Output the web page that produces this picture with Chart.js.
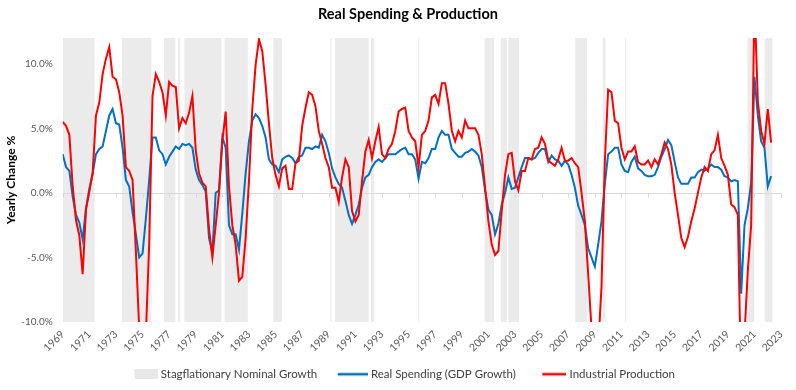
<!DOCTYPE html>
<html>
<head>
<meta charset="utf-8">
<title>Real Spending &amp; Production</title>
<script src="https://cdn.jsdelivr.net/npm/chart.js@4.4.1/dist/chart.umd.min.js"></script>
<style>
  body { margin: 0; background: #fff; }
  #wrap { position: relative; width: 796px; height: 390px; }
  #title {
    position: absolute; left: 0; top: 5px; width: 816px;
    text-align: center; line-height: 18px;
    font-family: Lato, 'Open Sans', sans-serif; font-weight: bold; font-size: 14.5px; color: #000;
  }
  #mycanvas { position: absolute; left: 0; top: 0; }
</style>
</head>
<body>
<div id="wrap">
  <canvas id="mycanvas" width="796" height="390"></canvas>
  <div id="title">Real Spending &amp; Production</div>
</div>
<script>
// yearly change %, one value per quarter, starting 1969 Q1
var firstYear = 1969;

var realSpending = [
  3.0, 2.0, 1.7, -0.3,    -1.7, -2.3, -3.6, -1.2,   0.3, 1.5, 3.0, 3.4,     3.6, 4.8, 6.0, 6.5,
  5.4, 5.3, 3.5, 1.0,     0.5, -1.5, -3.2, -5.0,    -4.7, -2.0, 1.0, 4.3,   4.3, 3.3, 3.0, 2.2,
  2.8, 3.2, 3.6, 3.4,     3.8, 3.7, 3.8, 3.5,       1.8, 1.0, 0.6, 0.1,     -3.5, -4.6, 0.0, 0.2,
  4.3, 3.5, -2.5, -3.2,   -3.2, -4.4, -1.6, 1.5,    4.0, 5.6, 6.1, 5.8,     5.2, 4.3, 2.6, 2.2,
  2.1, 1.6, 2.6, 2.8,     2.9, 2.7, 2.3, 2.8,       2.9, 3.5, 3.5, 3.4,     3.6, 3.5, 4.5, 4.0,
  3.1, 1.9, 1.2, 0.7,     0.4, -0.6, -1.7, -2.4,    -1.7, -0.9, 0.4, 1.2,   1.4, 2.0, 2.4, 2.6,
  2.4, 2.7, 3.0, 3.0,     3.0, 3.2, 3.4, 3.5,       3.0, 3.0, 2.6, 1.1,     2.4, 2.3, 2.7, 3.4,
  3.4, 4.3, 4.8, 4.5,     4.5, 3.4, 3.1, 2.8,       2.8, 3.1, 3.2, 3.4,     3.2, 2.9, 2.0, 0.2,
  -1.3, -1.7, -3.2, -2.4, -0.9, 0.0, 1.2, 0.3,      0.4, 1.2, 2.0, 2.7,     2.7, 2.6, 2.7, 3.1,
  3.4, 3.4, 2.4, 2.9,     2.6, 2.5, 2.1, 2.5,       2.2, 1.4, 0.4, -1.0,    -1.7, -2.5, -4.3, -5.0,
  -5.7, -4.0, -2.2, 0.7,  3.0, 3.2, 3.5, 3.5,       2.2, 1.7, 1.6, 2.4,     2.8, 1.9, 1.7, 1.4,
  1.3, 1.3, 1.4, 2.0,     2.8, 3.4, 4.1, 3.7,       2.4, 1.2, 0.7, 0.7,     0.7, 1.2, 1.2, 1.6,
  1.8, 1.7, 1.9, 2.2,     2.0, 2.0, 1.8, 1.3,       1.2, 0.9, 1.0, 0.9,     -7.8, -2.5, -1.2, 0.8,
  9.0, 6.0, 4.0, 3.5,     0.5, 1.3
];

var industrialProduction = [
  5.5, 5.2, 4.5, 0.5,     -2.1, -3.3, -6.3, -1.3,   0.1, 1.5, 6.0, 7.0,     9.2, 10.4, 11.3, 9.0,
  8.8, 7.8, 6.0, 2.0,     1.7, 1.0, -4.5, -10.5,    -13.0, -11.0, -4.0, 7.5, 9.2, 8.6, 7.8, 6.0,
  8.6, 8.3, 8.2, 5.0,     5.8, 5.4, 6.2, 7.5,       3.3, 1.5, 0.8, 0.5,     -2.8, -5.0, -2.5, 0.0,
  4.0, 6.3, 0.5, -2.5,    -4.0, -6.8, -6.5, -3.5,   0.9, 6.5, 9.9, 11.9,    11.0, 8.4, 5.4, 2.7,
  1.4, 0.5, 1.9, 2.1,     0.3, 0.3, 2.3, 2.5,       5.2, 6.6, 7.8, 7.6,     6.7, 4.8, 3.8, 2.7,
  2.0, 0.4, 0.4, -0.7,    1.2, 2.6, 2.0, -1.4,      -2.2, -1.7, 0.9, 3.2,   4.1, 2.7, 4.0, 5.1,
  3.0, 2.7, 3.4, 3.8,     4.8, 6.3, 6.5, 6.6,       4.8, 4.3, 4.0, 2.0,     4.5, 4.8, 5.6, 7.4,
  7.6, 6.9, 8.5, 8.5,     6.9, 4.8, 4.0, 4.8,       4.3, 5.6, 5.0, 5.0,     5.0, 4.5, 3.0, 0.4,
  -2.2, -4.0, -4.8, -4.5, -1.4, 1.4, 3.0, 3.1,      0.9, 0.2, 1.7, 1.7,     2.7, 2.6, 3.4, 3.5,
  4.3, 3.8, 2.5, 2.3,     2.1, 2.6, 3.5, 2.5,       2.5, 2.7, 2.3, 2.0,     0.0, -2.2, -6.3, -10.5,
  -15.0, -12.0, -7.3, 2.4, 8.0, 7.8, 5.6, 5.4,      3.5, 2.6, 3.2, 3.2,     3.6, 2.4, 2.2, 2.2,
  2.5, 2.0, 2.6, 2.2,     3.0, 3.9, 3.4, 2.2,       0.0, -1.7, -3.5, -4.2,  -3.4, -2.2, -1.2, 0.0,
  1.2, 2.0, 1.7, 3.0,     3.3, 4.5, 2.7, 2.1,       1.4, -0.9, -1.1, -1.7,  -15.0, -11.0, -6.0, -2.5,
  15.0, 7.1, 4.8, 3.8,    6.5, 3.9
];

// stagflationary nominal growth periods (decimal years)
var shadeStart = [1969.0, 1973.46, 1976.62, 1977.65, 1978.15, 1981.17, 1984.83, 1989.12, 1989.47, 1992.17,
                  1995.72, 2000.71, 2001.93, 2002.5, 2007.53, 2009.6, 2011.27, 2020.48, 2021.76];
var shadeEnd   = [1971.4, 1975.67, 1977.47, 1977.83, 1980.92, 1982.92, 1985.48, 1989.2, 1992.0, 1992.42,
                  1995.8, 2001.43, 2002.38, 2003.3, 2008.42, 2009.8, 2011.35, 2020.98, 2022.36];

var yMin = -10, yMax = 12;

function toPoints(values) {
  return values.map(function (v, i) { return { x: firstYear + i / 4, y: v }; });
}

var shadePoints = [];
for (var i = 0; i < shadeStart.length; i++) {
  shadePoints.push({ x: shadeStart[i], y: yMax });
  shadePoints.push({ x: shadeEnd[i], y: yMin });
}

// legend swatches: drawn at the right end of a wider transparent canvas
var legendBox = 40;
function makeSwatch(color, w, h) {
  var c = document.createElement('canvas');
  c.width = legendBox + 5;
  c.height = 10;
  var g = c.getContext('2d');
  g.fillStyle = color;
  g.fillRect(c.width - w, (10 - h) / 2, w, h);
  return c;
}

// zero line with small tick marks, drawn just over the shading
var zeroLine = {
  id: 'zeroLine',
  afterDatasetDraw: function (chart, args) {
    if (args.index !== 0) return;
    var xs = chart.scales.x, ys = chart.scales.y, ctx = chart.ctx;
    var y0 = Math.round(ys.getPixelForValue(0)) + 0.5;
    ctx.save();
    ctx.strokeStyle = '#d9d9d9';
    ctx.lineWidth = 1;
    ctx.beginPath();
    ctx.moveTo(xs.left, y0);
    ctx.lineTo(xs.right, y0);
    xs.ticks.forEach(function (t) {
      var px = Math.round(xs.getPixelForValue(t.value)) + 0.5;
      ctx.moveTo(px, y0);
      ctx.lineTo(px, y0 + 4);
    });
    ctx.stroke();
    ctx.restore();
  }
};

Chart.defaults.font.family = "Lato, 'Open Sans', sans-serif";

var padLeft = 6;

var chart = new Chart(document.getElementById('mycanvas'), {
  type: 'line',
  data: {
    datasets: [
      {
        label: 'Stagflationary Nominal Growth',
        data: shadePoints,
        stepped: true,
        fill: 'start',
        backgroundColor: '#ebebeb',
        borderColor: 'transparent',
        borderWidth: 0,
        pointRadius: 0,
        pointStyle: makeSwatch('#e8e8e8', 23, 10),
        order: 3
      },
      {
        label: 'Real Spending (GDP Growth)',
        data: toPoints(realSpending),
        borderColor: '#0070c0',
        backgroundColor: '#0070c0',
        borderWidth: 2,
        pointRadius: 0,
        pointStyle: makeSwatch('#0070c0', 30, 2.5),
        tension: 0,
        order: 2
      },
      {
        label: 'Industrial Production',
        data: toPoints(industrialProduction),
        borderColor: '#ff0000',
        backgroundColor: '#ff0000',
        borderWidth: 2,
        pointRadius: 0,
        pointStyle: makeSwatch('#ff0000', 24, 2.5),
        tension: 0,
        order: 1
      }
    ]
  },
  options: {
    responsive: false,
    animation: false,
    layout: { padding: { left: padLeft, right: 12, top: 38, bottom: 0 } },
    plugins: {
      title: { display: false },
      legend: {
        position: 'bottom',
        labels: {
          usePointStyle: true,
          pointStyleWidth: legendBox,
          padding: 8,
          color: '#404040',
          font: { size: 11.5 },
          sort: function (a, b) { return a.datasetIndex - b.datasetIndex; }
        }
      },
      tooltip: { enabled: false }
    },
    scales: {
      x: {
        type: 'linear',
        min: 1969,
        max: 2023,
        grid: { display: false, drawTicks: false },
        border: { display: false },
        ticks: {
          stepSize: 2,
          autoSkip: false,
          minRotation: 45,
          maxRotation: 45,
          color: '#595959',
          font: { size: 10.5 },
          padding: 6,
          callback: function (v) { return String(v); }
        },
        afterFit: function (scale) {
          scale.height = 390 - 322 - scale.chart.legend.height;
        }
      },
      y: {
        min: yMin,
        max: yMax,
        grid: { display: false, drawTicks: false },
        border: { display: false },
        ticks: {
          stepSize: 5,
          padding: 10,
          color: '#595959',
          font: { size: 10 },
          callback: function (v) { return v % 5 === 0 ? v.toFixed(1) + '%' : ''; }
        },
        title: {
          display: true,
          text: 'Yearly Change %',
          color: '#000',
          font: { size: 12, weight: 'bold' },
          padding: { top: 11 - padLeft - 7.2, bottom: 0 }
        },
        afterFit: function (scale) {
          scale.width = 62.7 - padLeft;
        }
      }
    }
  },
  plugins: [zeroLine]
});
</script>
</body>
</html>
